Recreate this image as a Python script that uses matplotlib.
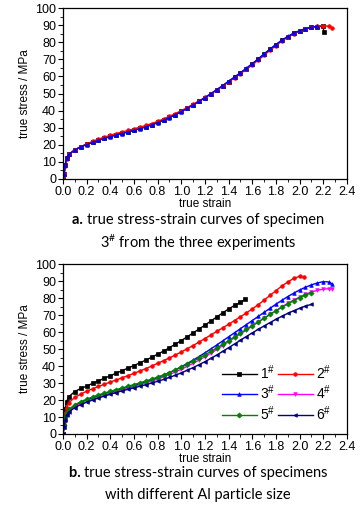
import matplotlib
matplotlib.use("Agg")
import matplotlib.pyplot as plt
from matplotlib.ticker import MultipleLocator

plt.rcParams['font.family'] = ['Liberation Sans', 'DejaVu Sans']
plt.rcParams['mathtext.default'] = 'regular'

# --- strain grid shared by all curves ---
STRAIN = [0, 0.01, 0.02, 0.03, 0.05, 0.10, 0.15, 0.20, 0.25, 0.30, 0.35, 0.40,
          0.45, 0.50, 0.55, 0.60, 0.65, 0.70, 0.75, 0.80, 0.85, 0.90, 0.95,
          1.00, 1.05, 1.10, 1.15, 1.20, 1.25, 1.30, 1.35, 1.40, 1.45, 1.50,
          1.55, 1.60, 1.65, 1.70, 1.75, 1.80, 1.85, 1.90, 1.95, 2.00, 2.05,
          2.10, 2.15, 2.20, 2.25]

# --- panel a: specimen 3#, three experiments ---
exp1_stress = [0, 3.2, 8.3, 12.2, 14.6, 17.1, 18.9, 20.3, 21.6, 22.8, 23.9, 24.9,
               25.9, 26.8, 27.7, 28.6, 29.6, 30.6, 31.8, 33.1, 34.5, 36.0, 37.7,
               39.5, 41.4, 43.4, 45.4, 47.5, 49.8, 52.1, 54.5, 57.0, 59.5, 62.0,
               64.6, 67.3, 70.1, 73.0, 75.9, 78.6, 81.1, 83.3, 85.2, 86.7, 87.9,
               88.7, 89.2, 89.3]
exp1_end = (2.205, 86.0)
exp2_stress = [0, 2.8, 7.8, 11.8, 14.4, 17.0, 18.9, 20.5, 22.0, 23.3, 24.5, 25.6,
               26.6, 27.5, 28.4, 29.3, 30.3, 31.3, 32.4, 33.7, 35.1, 36.6, 38.3,
               40.0, 41.8, 43.7, 45.7, 47.7, 49.9, 52.1, 54.4, 56.8, 59.2, 61.7,
               64.2, 66.8, 69.5, 72.4, 75.3, 78.1, 80.7, 83.0, 85.0, 86.6, 87.9,
               88.8, 89.4, 89.8, 89.3]
exp2_end = (2.27, 88.2)
exp3_stress = [0, 3.0, 8.0, 12.0, 14.4, 16.9, 18.7, 20.1, 21.4, 22.6, 23.7, 24.7,
               25.7, 26.6, 27.5, 28.4, 29.4, 30.4, 31.6, 32.9, 34.3, 35.9, 37.6,
               39.4, 41.3, 43.3, 45.4, 47.6, 49.9, 52.3, 54.7, 57.2, 59.7, 62.2,
               64.8, 67.5, 70.3, 73.2, 76.0, 78.7, 81.2, 83.4, 85.3, 86.8, 88.0,
               88.8, 89.3]

# --- panel b: specimens 1# - 6# ---
s1_stress = [0, 8.0, 15.0, 19.0, 22.0, 25.0, 26.8, 28.2, 29.8, 31.3, 32.8, 34.3,
             35.8, 37.3, 38.8, 40.3, 41.9, 43.5, 45.2, 47.0, 48.8, 50.8, 52.9,
             55.0, 57.2, 59.5, 61.8, 64.1, 66.5, 68.9, 71.3, 73.6, 75.7, 77.5]
s1_end = (1.54, 79.3)
s2_stress = [0, 6.0, 12.0, 15.5, 18.5, 21.5, 23.5, 25.2, 26.6, 28.0, 29.3, 30.6,
             31.8, 33.1, 34.4, 35.7, 37.1, 38.5, 40.0, 41.6, 43.2, 44.8, 46.5,
             48.3, 50.2, 52.1, 54.1, 56.2, 58.3, 60.4, 62.5, 64.6, 66.8, 69.0,
             71.3, 73.6, 76.1, 78.8, 81.6, 84.4, 87.1, 89.5, 91.6, 92.8]
s2_end = (2.04, 92.6)
s3_stress = [0, 4.0, 9.0, 12.0, 14.2, 16.8, 18.6, 20.0, 21.3, 22.5, 23.6, 24.6,
             25.6, 26.6, 27.6, 28.6, 29.6, 30.7, 31.9, 33.2, 34.6, 36.1, 37.8,
             39.6, 41.5, 43.5, 45.6, 47.8, 50.1, 52.4, 54.8, 57.2, 59.6, 62.0,
             64.4, 66.8, 69.2, 71.6, 74.0, 76.4, 78.7, 80.9, 82.9, 84.8, 86.4,
             87.8, 88.9, 89.7, 89.5]
s3_end = (2.27, 88.6)
s4_stress = [0, 4.0, 9.0, 11.5, 13.5, 16.0, 17.8, 19.2, 20.5, 21.7, 22.8, 23.9,
             24.9, 25.9, 26.9, 27.9, 28.9, 30.0, 31.1, 32.3, 33.6, 35.0, 36.5,
             38.1, 39.8, 41.6, 43.5, 45.5, 47.6, 49.8, 52.0, 54.3, 56.6, 58.9,
             61.2, 63.5, 65.8, 68.1, 70.4, 72.6, 74.8, 76.9, 78.8, 80.6, 82.2,
             83.6, 84.6, 85.3, 85.5]
s4_end = (2.27, 85.5)
s5_stress = [0, 5.0, 10.0, 12.5, 14.5, 17.2, 19.0, 20.5, 21.8, 23.0, 24.1, 25.1,
             26.1, 27.1, 28.1, 29.1, 30.1, 31.2, 32.3, 33.5, 34.8, 36.2, 37.7,
             39.3, 41.0, 42.8, 44.7, 46.6, 48.6, 50.7, 52.8, 55.0, 57.2, 59.4,
             61.6, 63.8, 66.0, 68.2, 70.4, 72.5, 74.6, 76.6, 78.5, 80.3, 81.8,
             83.1]
s6_stress = [0, 4.0, 8.5, 11.0, 13.0, 15.5, 17.3, 18.7, 20.0, 21.2, 22.3, 23.4,
             24.4, 25.4, 26.3, 27.2, 28.1, 29.0, 30.0, 31.0, 32.1, 33.3, 34.6,
             36.0, 37.5, 39.1, 40.8, 42.6, 44.5, 46.5, 48.6, 50.8, 53.0, 55.2,
             57.4, 59.5, 61.6, 63.6, 65.6, 67.5, 69.3, 71.0, 72.6, 74.0, 75.3,
             76.3]

labels_b = ['1$^{\\#}$', '2$^{\\#}$', '3$^{\\#}$', '4$^{\\#}$', '5$^{\\#}$', '6$^{\\#}$']
colors = ['#000000', '#FF0000', '#0000FF', '#FF00FF', '#008000', '#000080']
markers = ['s', 'o', '^', 'v', 'D', '<']


def curve(stress, end=None):
    x = list(STRAIN[:len(stress)])
    y = list(stress)
    if end is not None:
        x.append(end[0])
        y.append(end[1])
    return x, y


def style_axes(ax):
    ax.set_xlim(0, 2.4)
    ax.set_ylim(0, 100)
    ax.xaxis.set_major_locator(MultipleLocator(0.2))
    ax.xaxis.set_minor_locator(MultipleLocator(0.1))
    ax.yaxis.set_major_locator(MultipleLocator(10))
    ax.yaxis.set_minor_locator(MultipleLocator(5))
    ax.xaxis.set_major_formatter(plt.FuncFormatter(lambda v, p: f'{v:.1f}'))
    ax.tick_params(which='major', direction='out', length=3.5, width=0.8,
                   labelsize=9, pad=1.5)
    ax.tick_params(which='minor', direction='out', length=2, width=0.6)
    for s in ax.spines.values():
        s.set_linewidth(0.9)
    ax.set_xlabel('true strain', fontsize=8.5, labelpad=0)
    ax.set_ylabel('true stress / MPa', fontsize=8.5, labelpad=3)


fig = plt.figure(figsize=(3.64, 5.07), dpi=100)

# --- panel a ---
ax1 = fig.add_axes([0.173, 0.647, 0.780, 0.337])
panel_a = [(exp1_stress, exp1_end, 0), (exp2_stress, exp2_end, 1),
           (exp3_stress, None, 2)]
for stress, end, i in panel_a:
    x, y = curve(stress, end)
    ax1.plot(x, y, color=colors[i], marker=markers[i], markersize=2.6,
             linewidth=1.0, markeredgewidth=0.5)
style_axes(ax1)

# --- panel b ---
ax2 = fig.add_axes([0.173, 0.144, 0.780, 0.335])
panel_b = [(s1_stress, s1_end), (s2_stress, s2_end), (s3_stress, s3_end),
           (s4_stress, s4_end), (s5_stress, None), (s6_stress, None)]
handles = []
for i, (stress, end) in enumerate(panel_b):
    x, y = curve(stress, end)
    h, = ax2.plot(x, y, color=colors[i], marker=markers[i], markersize=2.6,
                  linewidth=1.0, markeredgewidth=0.5, label=labels_b[i])
    handles.append(h)
style_axes(ax2)
order = [0, 2, 4, 1, 3, 5]  # fill legend row by row
ax2.legend([handles[k] for k in order], [labels_b[k] for k in order],
           ncol=2, loc='lower right', bbox_to_anchor=(0.985, 0.0),
           frameon=False, fontsize=10, handlelength=2.5, handletextpad=0.25,
           columnspacing=0.2, labelspacing=0.15, borderpad=0.3)

# --- captions: bold panel letter followed by regular text, centred together ---
cap_font = ['Lato', 'DejaVu Sans']
cap_size = 10.5
renderer = fig.canvas.get_renderer()


def caption(y_px, bold, rest, cx=0.544):
    y = 1 - y_px / 507
    t1 = fig.text(0, y, bold + ' ', fontweight='bold', fontsize=cap_size,
                  family=cap_font, va='center')
    t2 = fig.text(0, y, rest, fontsize=cap_size, family=cap_font, va='center')
    w1 = t1.get_window_extent(renderer).width / fig.bbox.width
    w2 = t2.get_window_extent(renderer).width / fig.bbox.width
    x0 = cx - (w1 + w2) / 2
    t1.set_x(x0)
    t2.set_x(x0 + w1)


caption(220, 'a.', 'true stress-strain curves of specimen')
fig.text(0.544, 1 - 243 / 507, '3$^{\\#}$ from the three experiments',
         fontsize=cap_size, family=cap_font, ha='center', va='center')
caption(473, 'b.', 'true stress-strain curves of specimens')
fig.text(0.544, 1 - 495 / 507, 'with different Al particle size',
         fontsize=cap_size, family=cap_font, ha='center', va='center')

fig.savefig('out.png', dpi=100)
